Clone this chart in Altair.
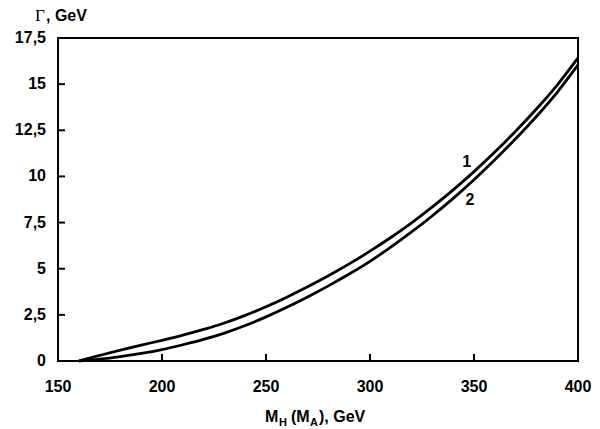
import altair as alt
import pandas as pd

# Higgs mass grid (GeV) and total widths for the two curves (GeV)
mass = [160, 170, 180, 190, 200, 210, 220, 230, 240, 250, 260, 270, 280,
        290, 300, 310, 320, 330, 340, 350, 360, 370, 380, 390, 400]
width_1 = [0.0, 0.3, 0.59, 0.86, 1.12, 1.40, 1.71, 2.06, 2.47, 2.94, 3.46, 4.02, 4.62,
           5.26, 5.95, 6.69, 7.49, 8.35, 9.27, 10.26, 11.32, 12.45, 13.65, 14.95, 16.42]
width_2 = [0.0, 0.1, 0.24, 0.41, 0.62, 0.88, 1.17, 1.51, 1.92, 2.39, 2.91, 3.47, 4.07,
           4.71, 5.40, 6.17, 6.99, 7.87, 8.81, 9.82, 10.90, 12.04, 13.25, 14.56, 16.04]

x_ticks = [200, 250, 300, 350]
x_labels = [150, 200, 250, 300, 350, 400]
y_ticks = [2.5, 5, 7.5, 10, 12.5, 15]
y_labels = [0, 2.5, 5, 7.5, 10, 12.5, 15, 17.5]

curve_names = ["1", "2"]
label_x = [346.5, 348.0]
label_y = [10.8, 8.7]

W, H = 520, 323
FONT = "Liberation Sans"

df = pd.concat([
    pd.DataFrame({"M": mass, "G": width_1, "curve": "1"}),
    pd.DataFrame({"M": mass, "G": width_2, "curve": "2"}),
])

xs = alt.Scale(domain=[150, 400], nice=False, zero=False)
ys = alt.Scale(domain=[0, 17.5], nice=False)


def num(v):
    # decimal comma, no trailing zeros
    return f"{v:g}".replace(".", ",")


lines = alt.Chart(df).mark_line(color="black", strokeWidth=2.8, interpolate="monotone").encode(
    x=alt.X("M:Q", scale=xs, axis=None),
    y=alt.Y("G:Q", scale=ys, axis=None),
    detail="curve:N",
)

# inward tick marks along the bottom and left edges of the frame
xt = alt.Chart(pd.DataFrame({"xt": x_ticks})).mark_rule(color="black", strokeWidth=2).encode(
    x=alt.X("xt:Q", scale=xs, axis=None),
    y=alt.YValue(H),
    y2=alt.Y2Value(H - 7),
)
yt = alt.Chart(pd.DataFrame({"yt": y_ticks})).mark_rule(color="black", strokeWidth=2).encode(
    y=alt.Y("yt:Q", scale=ys, axis=None),
    x=alt.XValue(0),
    x2=alt.X2Value(7),
)

# tick labels
xl = alt.Chart(pd.DataFrame({"xv": x_labels, "s": [num(v) for v in x_labels]})).mark_text(
    font=FONT, fontSize=16, fontWeight="bold", color="black", align="center", baseline="top"
).encode(x=alt.X("xv:Q", scale=xs, axis=None), y=alt.YValue(H + 18), text="s:N")
yl = alt.Chart(pd.DataFrame({"yv": y_labels, "s": [num(v) for v in y_labels]})).mark_text(
    font=FONT, fontSize=16, fontWeight="bold", color="black", align="right", baseline="middle"
).encode(y=alt.Y("yv:Q", scale=ys, axis=None), x=alt.XValue(-12), text="s:N")

curve_labels = alt.Chart(pd.DataFrame({"M": label_x, "G": label_y, "name": curve_names})).mark_text(
    font=FONT, fontSize=16, fontWeight="bold", color="black").encode(
    x=alt.X("M:Q", scale=xs, axis=None), y=alt.Y("G:Q", scale=ys, axis=None), text="name:N")


def txt(s, x, y, size=16, weight="bold", font=FONT):
    return alt.Chart(pd.DataFrame({"s": [s]})).mark_text(
        font=font, fontSize=size, fontWeight=weight, color="black",
        align="left", baseline="alphabetic").encode(
        x=alt.value(x), y=alt.value(y), text="s:N")


# axis titles with subscripts
title_parts = [
    txt("\u0393", -23, -17, size=17, weight="normal", font="Liberation Serif"),
    txt(", GeV", -12, -17),
    txt("M", 207, 384),
    txt("H", 221, 388, size=11),
    txt("(M", 233, 384),
    txt("A", 252, 388, size=11),
    txt("), GeV", 261, 384),
]

chart = alt.layer(lines, xl, yl, curve_labels, *title_parts, xt, yt).properties(
    width=W, height=H,
    autosize=alt.AutoSizeParams(type="none"),
    padding={"left": 58, "top": 38, "right": 22, "bottom": 68},
    background="white",
).configure_view(stroke="black", strokeWidth=2)

chart.save("out.html", embed_options={"renderer": "svg", "actions": False})
